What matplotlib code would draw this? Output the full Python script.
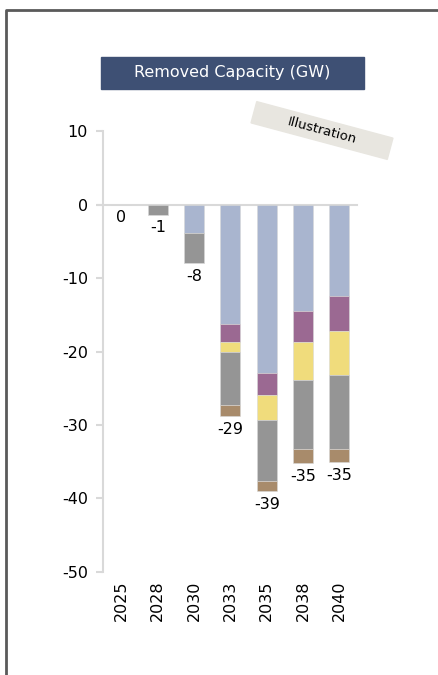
import matplotlib
matplotlib.use("Agg")
import matplotlib.pyplot as plt
from matplotlib.patches import Rectangle
from matplotlib.lines import Line2D
import numpy as np

# ── Data (GW removed, stacked downwards) ──────────────────────────────────────
years = ["2025", "2028", "2030", "2033", "2035", "2038", "2040"]
blue   = [0.0, 0.0, 3.9, 16.2, 22.9, 14.5, 12.5]
purple = [0.0, 0.0, 0.0,  2.5,  3.0,  4.2,  4.7]
yellow = [0.0, 0.0, 0.0,  1.4,  3.4,  5.2,  6.0]
grey   = [0.0, 1.4, 4.0,  7.2,  8.3,  9.3, 10.0]
brown  = [0.0, 0.0, 0.1,  1.5,  1.4,  2.0,  1.9]

series = [blue, purple, yellow, grey, brown]
colors = ["#a9b5cf", "#9b6992", "#f0dc7c", "#959595", "#a88b6b"]

plt.rcParams["font.family"] = ["DejaVu Sans"]
plt.rcParams["axes.unicode_minus"] = False

fig = plt.figure(figsize=(4.39, 6.75), dpi=100)
ax = fig.add_axes([0.2353, 0.1526, 0.579, 0.6533])

x = np.arange(len(years))
bottom = np.zeros(len(years))
for vals, c in zip(series, colors):
    v = -np.array(vals)
    ax.bar(x, v, bottom=bottom, width=0.55, color=c,
           edgecolor="#d8d8d8", linewidth=0.4)
    bottom += v

# totals under each bar
for xi, tot in zip(x, bottom):
    ax.annotate(f"{int(round(tot))}", (xi, tot), xytext=(0, -4),
                textcoords="offset points", ha="center", va="top",
                fontsize=11.5)

ax.set_xlim(-0.5, 6.5)
ax.set_ylim(-50, 10)
ax.set_yticks(range(-50, 11, 10))
ax.set_xticks(x)
ax.set_xticklabels(years, rotation=90)

for s in ["top", "right", "bottom"]:
    ax.spines[s].set_visible(False)
ax.spines["left"].set_color("#d9d9d9")
ax.spines["left"].set_linewidth(1.5)
ax.tick_params(axis="y", colors="#d9d9d9", labelcolor="black",
               length=5, width=1.5, pad=6, labelsize=11.5)
ax.tick_params(axis="x", length=0, pad=6, labelsize=11.5)
ax.axhline(0, xmin=-0.02, xmax=1.0, color="#d9d9d9", lw=1.5,
           clip_on=False, zorder=0)

# title box
fig.patches.append(Rectangle((1.01, 5.86), 2.63, 0.32, color="#3e5074",
                             transform=fig.dpi_scale_trans, figure=fig))
fig.text(2.325, 6.02, "Removed Capacity (GW)", color="white",
         fontsize=11.5, ha="center", va="center",
         transform=fig.dpi_scale_trans)

# "Illustration" tag
fig.patches.append(Rectangle((3.22 - 0.705, 5.445 - 0.11), 1.41, 0.22,
                             angle=-15, rotation_point="center",
                             color="#e8e6e0", transform=fig.dpi_scale_trans,
                             figure=fig))
fig.text(3.22, 5.445, "Illustration", rotation=-15, fontsize=9.5,
         ha="center", va="center", rotation_mode="anchor",
         transform=fig.dpi_scale_trans)

# frame
fig.lines.append(Line2D([0.06, 0.06, 4.39], [0.0, 6.65, 6.65],
                        color="#5a5a5a", lw=2, transform=fig.dpi_scale_trans,
                        figure=fig))

fig.savefig("out.png", dpi=100)
